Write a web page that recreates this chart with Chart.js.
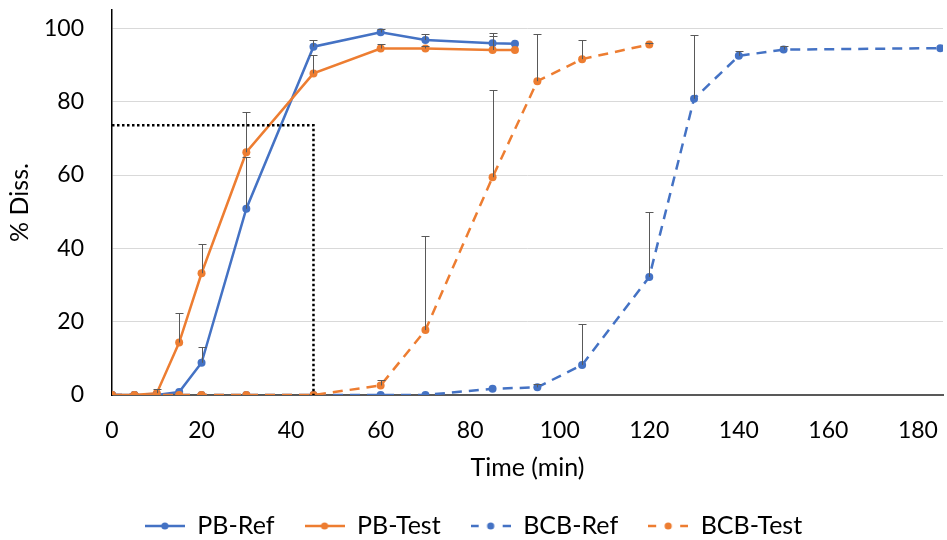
<!DOCTYPE html>
<html><head><meta charset="utf-8">
<script src="https://cdn.jsdelivr.net/npm/chart.js@4.4.1/dist/chart.umd.min.js"></script>
<style>html,body{margin:0;padding:0;background:#fff}canvas{display:block}</style>
</head><body>
<canvas id="c" width="947" height="540"></canvas>
<script>
// ---- data ----
const seriesNames = ['PB-Ref', 'PB-Test', 'BCB-Ref', 'BCB-Test'];

const pbTime      = [0, 5, 10, 15, 20, 30, 45, 60, 70, 85, 90];
const pbRef       = [0, 0, 0, 0.8, 8.8, 50.8, 95.0, 98.9, 96.8, 95.9, 95.8];
const pbRefErr    = [0, 0, 0, 0, 4.4, 14.1, 1.9, 0.9, 1.7, 2.7, 0];
const pbTest      = [0, 0, 0.5, 14.3, 33.2, 66.2, 87.7, 94.5, 94.5, 94.1, 94.1];
const pbTestErr   = [0, 0, 1.1, 8.2, 7.9, 11.0, 4.9, 1.1, 0.7, 3.7, 0];

const bcbRefTime  = [0, 5, 10, 15, 20, 30, 45, 60, 70, 85, 95, 105, 120, 130, 140, 150, 185];
const bcbRef      = [0, 0, 0, 0, 0, 0, 0, 0, 0, 1.7, 2.1, 8.2, 32.2, 80.8, 92.5, 94.2, 94.6];
const bcbRefErr   = [0, 0, 0, 0, 0, 0, 0, 0, 0, 0, 1.0, 11.3, 17.8, 17.5, 1.3, 1.1, 0];

const bcbTestTime = [0, 5, 10, 15, 20, 30, 45, 60, 70, 85, 95, 105, 120];
const bcbTest     = [0, 0, 0, 0, 0, 0, 0, 2.6, 17.7, 59.4, 85.6, 91.6, 95.6];
const bcbTestErr  = [0, 0, 0, 0, 0, 0, 0, 1.4, 25.6, 23.8, 12.8, 5.3, 0.5];

const guideX = [0, 45, 45];
const guideY = [73.6, 73.6, 0];

const xTickValues = [0, 20, 40, 60, 80, 100, 120, 140, 160, 180];
const yTickValues = [0, 20, 40, 60, 80, 100];

const xTitle = 'Time (min)';
const yTitle = '% Diss.';

// ---- styling ----
const BLUE = '#4472C4', ORANGE = '#ED7D31';
const FONT = 'Lato, "Open Sans", sans-serif';
const DASH = [10, 7];

const pts = (xs, ys) => xs.map((x, i) => ({x: x, y: ys[i]}));

function legendIcon(color, dashed) {
  const c = document.createElement('canvas');
  c.width = 40; c.height = 12;
  const g = c.getContext('2d');
  g.strokeStyle = color; g.lineWidth = 2.5;
  g.beginPath();
  if (dashed) {
    g.moveTo(0, 6); g.lineTo(8, 6);
    g.moveTo(32, 6); g.lineTo(40, 6);
  } else {
    g.moveTo(0, 6); g.lineTo(40, 6);
  }
  g.stroke();
  g.fillStyle = color;
  g.beginPath(); g.arc(20, 6, 3.6, 0, Math.PI * 2); g.fill();
  return c;
}

const seriesDefs = [
  {name: seriesNames[0], data: pts(pbTime, pbRef), err: pbRefErr, color: BLUE, dashed: false, order: 4},
  {name: seriesNames[1], data: pts(pbTime, pbTest), err: pbTestErr, color: ORANGE, dashed: false, order: 3},
  {name: seriesNames[2], data: pts(bcbRefTime, bcbRef), err: bcbRefErr, color: BLUE, dashed: true, order: 2},
  {name: seriesNames[3], data: pts(bcbTestTime, bcbTest), err: bcbTestErr, color: ORANGE, dashed: true, order: 1}
];

const datasets = seriesDefs.map(s => ({
  label: s.name,
  data: s.data,
  errors: s.err,
  borderColor: s.color,
  backgroundColor: s.color,
  borderWidth: 2.5,
  borderDash: s.dashed ? DASH : [],
  pointRadius: 4,
  pointBorderWidth: 0,
  pointBackgroundColor: s.color,
  tension: 0,
  order: s.order,
  legendIcon: legendIcon(s.color, s.dashed)
}));

datasets.push({
  label: 'guide',
  data: pts(guideX, guideY),
  borderColor: '#000',
  borderWidth: 2.5,
  borderDash: [2.5, 2.5],
  pointRadius: 0,
  tension: 0,
  order: 0,
  isGuide: true
});

const errorBars = {
  id: 'errorBars',
  afterDatasetsDraw(chart) {
    const ctx = chart.ctx;
    const xs = chart.scales.x, ys = chart.scales.y;
    ctx.save();
    ctx.strokeStyle = '#595959';
    ctx.lineWidth = 1;
    chart.data.datasets.forEach(ds => {
      if (!ds.errors) return;
      ds.data.forEach((p, i) => {
        const e = ds.errors[i];
        if (!e) return;
        const px = Math.round(xs.getPixelForValue(p.x)) + 0.5;
        const y0 = ys.getPixelForValue(p.y);
        const y1 = Math.round(ys.getPixelForValue(p.y + e)) + 0.5;
        ctx.beginPath();
        ctx.moveTo(px, y0); ctx.lineTo(px, y1);
        ctx.moveTo(px - 4, y1); ctx.lineTo(px + 4, y1);
        ctx.stroke();
      });
    });
    ctx.restore();
  }
};

const BOTTOM_PAD = -8.5;

new Chart(document.getElementById('c'), {
  type: 'line',
  data: {datasets: datasets},
  plugins: [errorBars],
  options: {
    responsive: false,
    animation: false,
    devicePixelRatio: 1,
    events: [],
    layout: {padding: {top: 10, left: 0, right: 0, bottom: BOTTOM_PAD}},
    scales: {
      x: {
        type: 'linear',
        min: 0,
        max: 185.6,
        afterBuildTicks(s) { s.ticks = xTickValues.map(v => ({value: v})); },
        afterFit(s) {
          s.paddingLeft = 0; s.paddingRight = 0;
          s.height = 540 - BOTTOM_PAD - s.chart.legend.height - 395;
        },
        grid: {display: false, drawTicks: false},
        border: {display: true, color: '#595959', width: 2},
        ticks: {color: '#000', font: {family: FONT, size: 23}, padding: 22, maxRotation: 0, autoSkip: false},
        title: {display: true, text: xTitle, color: '#000', font: {family: FONT, size: 25}, padding: {top: 0, bottom: 0.5}}
      },
      y: {
        type: 'linear',
        min: 0,
        max: 105,
        afterBuildTicks(s) { s.ticks = yTickValues.map(v => ({value: v})); },
        afterFit(s) {
          s.paddingTop = 0; s.paddingBottom = 0;
          s.width = 112;
        },
        grid: {color: '#D9D9D9', lineWidth: 1, drawTicks: false},
        border: {display: true, color: '#000', width: 1.5},
        ticks: {color: '#000', font: {family: FONT, size: 23}, padding: 28},
        title: {display: true, text: yTitle, color: '#000', font: {family: FONT, size: 25}, padding: {top: 5, bottom: 5}}
      }
    },
    plugins: {
      tooltip: {enabled: false},
      legend: {
        position: 'bottom',
        labels: {
          usePointStyle: true,
          pointStyleWidth: 40,
          padding: 30,
          color: '#000',
          font: {family: FONT, size: 25},
          generateLabels(chart) {
            return chart.data.datasets
              .map((ds, i) => ({ds, i}))
              .filter(o => !o.ds.isGuide)
              .map(o => ({
                text: o.ds.label,
                pointStyle: o.ds.legendIcon,
                fillStyle: o.ds.borderColor,
                strokeStyle: o.ds.borderColor,
                lineWidth: 0,
                hidden: false,
                datasetIndex: o.i,
                fontColor: '#000'
              }));
          }
        }
      }
    }
  }
});
</script>
</body></html>
